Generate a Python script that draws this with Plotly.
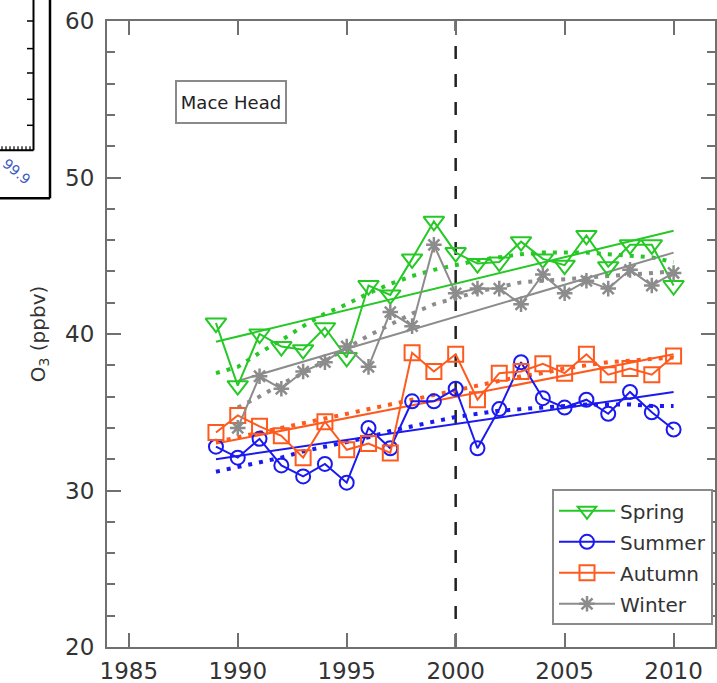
import plotly.graph_objects as go

# ---------------- data ----------------
years = list(range(1989, 2011))
winter_years = list(range(1990, 2011))

spring = [40.7, 36.7, 40.0, 39.2, 39.0, 40.4, 38.5, 43.1, 42.5, 44.8, 47.2, 45.2,
          44.5, 44.6, 45.9, 44.8, 44.4, 46.3, 44.3, 45.7, 45.7, 43.1]
summer = [32.8, 32.1, 33.3, 31.6, 30.9, 31.7, 30.5, 34.0, 32.7, 35.7, 35.7, 36.5,
          32.7, 35.2, 38.2, 35.9, 35.3, 35.8, 34.9, 36.3, 35.0, 33.9]
autumn = [33.7, 34.8, 34.1, 33.5, 32.1, 34.4, 32.6, 33.0, 32.4, 38.8, 37.6, 38.7,
          35.8, 37.5, 37.6, 38.1, 37.5, 38.7, 37.4, 37.8, 37.4, 38.6]
winter = [34.0, 37.3, 36.5, 37.6, 38.2, 39.2, 37.9, 41.4, 40.5, 45.7, 42.6, 42.9,
          42.9, 41.9, 43.8, 42.6, 43.4, 42.9, 44.1, 43.1, 43.9]

spring_smooth = [37.5, 37.9, 38.8, 39.6, 40.5, 41.3, 41.9, 42.6, 43.2, 43.7, 44.1,
                 44.4, 44.7, 44.9, 45.1, 45.2, 45.2, 45.2, 45.1, 45.0, 44.9, 44.6]
summer_smooth = [31.2, 31.5, 31.8, 32.1, 32.5, 32.8, 33.1, 33.4, 33.8, 34.1, 34.4,
                 34.7, 34.9, 35.1, 35.2, 35.3, 35.4, 35.5, 35.5, 35.5, 35.4, 35.4]
autumn_smooth = [33.1, 33.4, 33.7, 34.0, 34.3, 34.6, 34.9, 35.2, 35.5, 35.8, 36.1,
                 36.4, 36.7, 37.0, 37.3, 37.5, 37.8, 38.0, 38.2, 38.3, 38.4, 38.5]
winter_smooth = [35.3, 36.0, 36.8, 37.5, 38.3, 39.1, 39.9, 40.6, 41.3, 41.9, 42.3,
                 42.7, 43.0, 43.3, 43.4, 43.5, 43.6, 43.7, 43.8, 43.9, 44.0]

fit_years = [1989, 2010]
winter_fit_years = [1990, 2010]
spring_fit = [39.5, 46.6]
summer_fit = [32.0, 36.3]
autumn_fit = [33.0, 38.7]
winter_fit = [37.0, 45.2]

break_year = 2000
x_ticks = [1985, 1990, 1995, 2000, 2005, 2010]
y_ticks = [20, 30, 40, 50, 60]
site_label = "Mace Head"

# ---------------- styling ----------------
GREEN = "#26c826"
BLUE = "#1a1af0"
ORANGE = "#ff5a1e"
GREY = "#8c8c8c"
FONT = "DejaVu Sans"
AXIS = "#707070"
TEXT = "#333333"

series = [
    ("Spring", years, spring, spring_smooth, fit_years, spring_fit, GREEN,
     dict(symbol="triangle-down-open", size=18, line=dict(width=2, color=GREEN))),
    ("Summer", years, summer, summer_smooth, fit_years, summer_fit, BLUE,
     dict(symbol="circle-open", size=14, line=dict(width=2, color=BLUE))),
    ("Autumn", years, autumn, autumn_smooth, fit_years, autumn_fit, ORANGE,
     dict(symbol="square-open", size=15, line=dict(width=2, color=ORANGE))),
    ("Winter", winter_years, winter, winter_smooth, winter_fit_years, winter_fit, GREY,
     dict(symbol="asterisk-open", size=13, line=dict(width=2.5, color=GREY))),
]

fig = go.Figure()

for name, xs, ys, sm, fx, fy, col, mk in series:
    fig.add_trace(go.Scatter(x=xs, y=sm, mode="lines", showlegend=False,
                             line=dict(color=col, width=4, dash="4px,7px"),
                             hoverinfo="skip"))
    fig.add_trace(go.Scatter(x=fx, y=fy, mode="lines", showlegend=False,
                             line=dict(color=col, width=2), hoverinfo="skip"))

for name, xs, ys, sm, fx, fy, col, mk in series:
    fig.add_trace(go.Scatter(x=xs, y=ys, mode="lines+markers", name=name,
                             legendgroup=name,
                             line=dict(color=col, width=2), marker=mk))

# pixel -> paper helpers for decoration outside the plot area
L, R, T, B = 107, 715, 20.7, 646.7
def PX(px):
    return (px - L) / (R - L)
def PY(py):
    return (B - py) / (B - T)

shapes = [
    dict(type="line", xref="x", yref="paper", x0=break_year, x1=break_year, y0=0, y1=1,
         line=dict(color="#222222", width=2.5, dash="13px,15px"), layer="below"),
    # partial neighbouring panel at the top-left corner
    dict(type="line", xref="paper", yref="paper", x0=PX(50), x1=PX(50), y0=PY(-5), y1=PY(198),
         line=dict(color="black", width=2.5)),
    dict(type="line", xref="paper", yref="paper", x0=PX(-5), x1=PX(50), y0=PY(198), y1=PY(198),
         line=dict(color="black", width=2.5)),
    dict(type="line", xref="paper", yref="paper", x0=PX(33.5), x1=PX(33.5), y0=PY(-5), y1=PY(150),
         line=dict(color="black", width=2)),
    dict(type="line", xref="paper", yref="paper", x0=PX(-5), x1=PX(33.5), y0=PY(150), y1=PY(150),
         line=dict(color="black", width=2)),
]
for ty in [20.7, 48.3, 72.7, 99, 125]:
    shapes.append(dict(type="line", xref="paper", yref="paper", x0=PX(27), x1=PX(33.5),
                       y0=PY(ty), y1=PY(ty), line=dict(color="black", width=1.5)))
for tx in [2, 6, 10, 14, 18, 22, 26, 30]:
    shapes.append(dict(type="line", xref="paper", yref="paper", x0=PX(tx), x1=PX(tx),
                       y0=PY(150), y1=PY(146), line=dict(color="black", width=1.2)))

annotations = [
    dict(x=1989.7, y=54.85, xref="x", yref="y", text=site_label, showarrow=False,
         font=dict(family=FONT, size=18, color="#222222"),
         width=104, height=36, borderpad=2,
         bgcolor="white", bordercolor="#8a8a8a", borderwidth=2),
    dict(x=PX(16), y=PY(171), xref="paper", yref="paper", text="99.9", showarrow=False,
         xanchor="center", yanchor="middle",
         textangle=40, font=dict(family=FONT, size=14, color="#3f5fc0")),
]

axis_common = dict(showline=True, linecolor=AXIS, linewidth=2, mirror="allticks",
                   ticks="inside", tickcolor=AXIS, tickwidth=1.5, showgrid=False,
                   zeroline=False, automargin=False,
                   tickfont=dict(family=FONT, size=23, color=TEXT))

fig.update_layout(
    width=717, height=683,
    margin=dict(l=L, r=717 - R, t=T, b=683 - B, pad=0),
    plot_bgcolor="white", paper_bgcolor="white",
    xaxis=dict(range=[1984, 2011.9], tickvals=x_ticks, ticklen=14,
               ticklabelstandoff=2, **axis_common),
    yaxis=dict(range=[20, 60], tickvals=y_ticks, ticklen=14,
               minor=dict(dtick=2, ticks="inside", ticklen=8, tickcolor=AXIS, tickwidth=1.5),
               ticklabelstandoff=6,
               title=dict(text="O<sub>3</sub> (ppbv)", standoff=14,
                          font=dict(family=FONT, size=20, color=TEXT)),
               **axis_common),
    legend=dict(x=PX(552), y=PY(489), xanchor="left", yanchor="top",
                bgcolor="white", bordercolor="#8a8a8a", borderwidth=2,
                font=dict(family=FONT, size=20, color=TEXT),
                tracegroupgap=2, itemwidth=56),
    shapes=shapes,
    annotations=annotations,
    showlegend=True,
)

fig.write_html(
    "out.html",
    config={"displayModeBar": False},
    post_script="document.body.style.margin='0';document.body.style.overflow='hidden';",
)
